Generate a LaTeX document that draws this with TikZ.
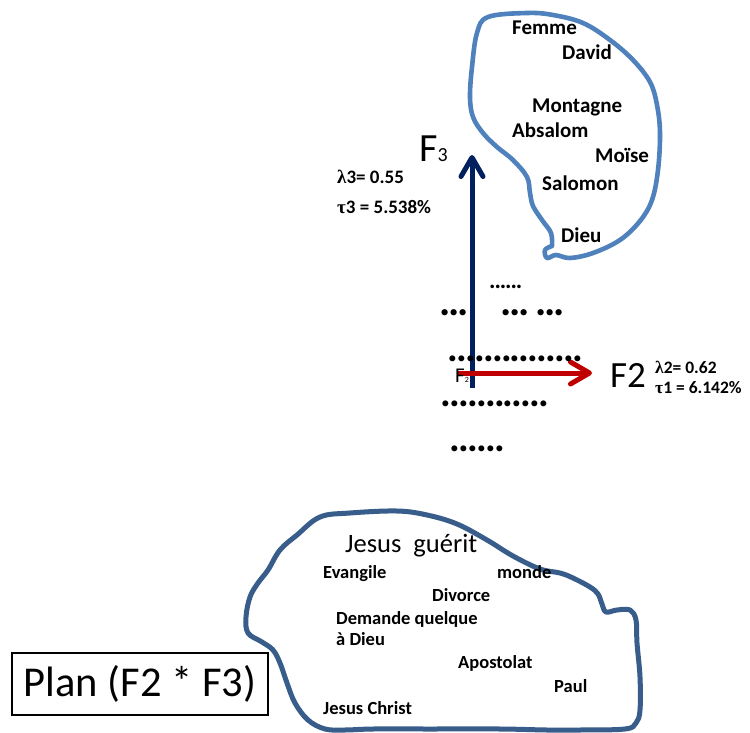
\documentclass[tikz,border=0pt]{standalone}
\usepackage{fontspec}
\setmainfont{Carlito}
\newfontfamily\grk{Liberation Serif}
\newfontfamily\dotfont[LetterSpace=-4.5]{Carlito}
\usetikzlibrary{arrows.meta}
\definecolor{topblue}{RGB}{79,129,189}
\definecolor{botblue}{RGB}{56,93,138}
\definecolor{axisnavy}{RGB}{0,32,96}
\definecolor{axisred}{RGB}{192,0,0}
\tikzset{
  toplbl/.style={anchor=base west, inner sep=0pt, font=\bfseries\fontsize{21}{21}\selectfont},
  botlbl/.style={anchor=base west, inner sep=0pt, font=\bfseries\fontsize{18.5}{18.5}\selectfont},
  statlbl/.style={anchor=base west, inner sep=0pt, font=\bfseries\fontsize{19}{19}\selectfont},
  dotrow/.style={anchor=base west, inner sep=0pt, font=\dotfont\bfseries\fontsize{40}{40}\selectfont},
  blobline/.style={line width=5pt, line cap=round, line join=round},
  axisarrow/.style={line width=5pt, -{Straight Barb[length=19pt,width=22pt,round]}}
}
\begin{document}
\begin{tikzpicture}[x=1pt,y=-1pt]
\useasboundingbox (0,0) rectangle (750,733);
\fill[white] (0,0) rectangle (750,733);

% top blob
\draw[blobline, topblue, line width=4.6pt] plot[smooth, tension=0.6] coordinates {
 (552,246) (545,250) (547,258) (556,255) (570,258) (593,253) (620,240) (640,221)
 (652,200) (658,170) (660,133) (657,105) (650,82) (633,60) (610,40) (583,23)
 (553,15) (527,13) (488,17) (477,33) (472,67) (470,97) (473,117) (483,133)
 (497,147) (513,160) (527,177) (530,193) (533,206) (542,220) (551,233) (552,246)};

% bottom blob
\draw[blobline, botblue] plot[smooth cycle, tension=0.6] coordinates {
 (320,517) (350,513) (397,511) (427,515) (457,524) (487,540) (513,556) (540,569)
 (560,573) (573,578) (590,587) (598,594) (602,604) (606,612) (617,610) (630,610)
 (636,620) (637,643) (640,677) (640,710) (636,723) (625,729) (580,730) (547,730)
 (500,729) (430,729) (373,729) (345,730) (325,729) (308,720) (295,703) (287,683)
 (280,663) (273,650) (262,642) (248,633) (246,617) (250,597) (258,583) (268,570)
 (280,550) (297,535)};

% axes
\coordinate (o3) at (472,388);
\coordinate (t3) at (472,155);
\coordinate (o2) at (457,373);
\coordinate (t2) at (592,373);
\draw[axisarrow, axisnavy] (o3) -- (t3);
\draw[axisarrow, axisred] (o2) -- (t2);

% axis labels
\node[anchor=base west, inner sep=0pt] (f3) at (419,161)
  {\fontsize{40}{40}\selectfont F\fontsize{20}{20}\selectfont 3};
\node[anchor=base west, inner sep=0pt, font=\fontsize{37}{37}\selectfont] (f2) at (610,387) {F2};
\node[anchor=base west, inner sep=0pt] (f2s) at (455,382)
  {\fontsize{21}{21}\selectfont F\fontsize{8}{8}\selectfont 2};

\node[statlbl] (l3) at (337,184) {{\grk λ}3= 0.55};
\node[statlbl] (t3l) at (337,213) {{\grk τ}3 = 5.538\%};
\node[statlbl, font=\bfseries\fontsize{17.5}{17.5}\selectfont] (l2) at (655,373) {{\grk λ}2= 0.62};
\node[statlbl, font=\bfseries\fontsize{17.5}{17.5}\selectfont] (t1l) at (655,393) {{\grk τ}1 = 6.142\%};

% dots
\node[dotrow, font=\dotfont\bfseries\fontsize{24}{24}\selectfont] (d1) at (489,288) {......};
\node[dotrow, font=\dotfont\bfseries\fontsize{42}{42}\selectfont] (d2a) at (439,315) {...};
\node[dotrow, font=\dotfont\bfseries\fontsize{42}{42}\selectfont] (d2b) at (500,315) {...};
\node[dotrow, font=\dotfont\bfseries\fontsize{42}{42}\selectfont] (d2c) at (535,315) {...};
\node[dotrow] (d3) at (447.5,361) {...............};
\node[dotrow] (d4) at (440.5,406) {............};
\node[dotrow] (d5) at (449.5,451) {......};

% top labels
\node[toplbl] (femme) at (512,35) {Femme};
\node[toplbl] (david) at (562,60) {David};
\node[toplbl] (montagne) at (532,113) {Montagne};
\node[toplbl] (absalom) at (512,138) {Absalom};
\node[toplbl] (moise) at (595,163) {Moïse};
\node[toplbl] (salomon) at (542,190) {Salomon};
\node[toplbl] (dieu) at (561,242) {Dieu};

% bottom labels
\node[anchor=base west, inner sep=0pt, font=\fontsize{26.5}{26.5}\selectfont] (jg) at (345,552) {Jesus~ guérit};
\node[botlbl] (evangile) at (323,578) {Evangile};
\node[botlbl] (monde) at (497,578) {monde};
\node[botlbl] (divorce) at (432,601) {Divorce};
\node[botlbl] (demande) at (336,624) {Demande quelque};
\node[botlbl] (adieu) at (336,645) {à Dieu};
\node[botlbl] (apostolat) at (458,668) {Apostolat};
\node[botlbl] (paul) at (554,692) {Paul};
\node[botlbl] (jc) at (323,714) {Jesus Christ};

% plan box
\node[draw, line width=1.6pt, minimum width=256pt, minimum height=62pt, inner sep=0pt,
      font=\fontsize{42.5}{42.5}\selectfont] (plan) at (140,684) {Plan (F2 * F3)};
\end{tikzpicture}
\end{document}
